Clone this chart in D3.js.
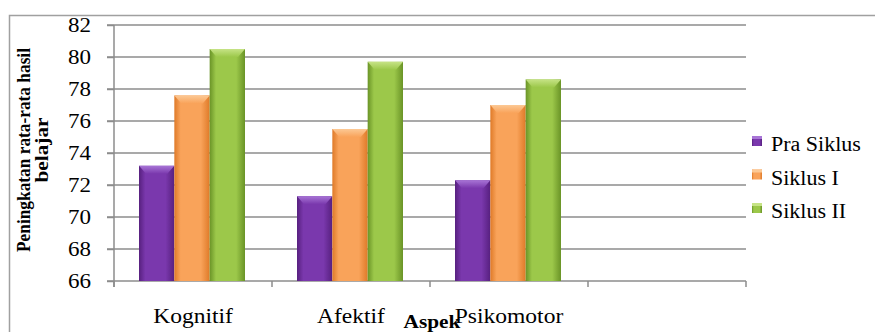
<!DOCTYPE html>
<html>
<head>
<meta charset="utf-8">
<script src="https://cdn.jsdelivr.net/npm/d3@7"></script>
<style>
  body { margin: 0; background: #fff; }
  svg { display: block; }
  svg text { font-family: 'Liberation Serif', 'Times New Roman', 'DejaVu Serif', serif; }
</style>
</head>
<body>
<div id="chart-area"></div>
<script>
const categories = ['Kognitif', 'Afektif', 'Psikomotor', ''];
const seriesNames = ['Pra Siklus', 'Siklus I', 'Siklus II'];
const praSiklus = [73.2, 71.3, 72.3];
const siklusI = [77.6, 75.5, 77.0];
const siklusII = [80.5, 79.7, 78.6];
const yTicks = [66, 68, 70, 72, 74, 76, 78, 80, 82];

const seriesValues = [praSiklus, siklusI, siklusII];
const colors = [
    { dark: '#57207f', mid: '#7a38ad', top: '#a875d6' },
    { dark: '#df7a28', mid: '#f9a35a', top: '#fcc995' },
    { dark: '#6a9427', mid: '#9cc84a', top: '#c6e386' }
];

const width = 875, height = 332;
const plot = { left: 114, right: 746, top: 25, bottom: 281 };
const serif = "'Liberation Serif', 'Times New Roman', 'DejaVu Serif', serif";

let svg = d3.select('#chart-area').append('svg')
    .attr('width', width)
    .attr('height', height);

// stretch text horizontally like the source picture
function stretch(sel, k) {
    sel.each(function () {
        this.setAttribute('textLength', this.getComputedTextLength() * k);
        this.setAttribute('lengthAdjust', 'spacingAndGlyphs');
    });
}
function fitTo(sel, len) {
    sel.attr('textLength', len).attr('lengthAdjust', 'spacingAndGlyphs');
}

let defs = svg.append('defs');
colors.forEach((c, i) => {
    let g = defs.append('linearGradient').attr('id', 'bar' + i)
        .attr('x1', 0).attr('x2', 1).attr('y1', 0).attr('y2', 0);
    g.append('stop').attr('offset', '0%').attr('stop-color', c.dark);
    g.append('stop').attr('offset', '18%').attr('stop-color', c.mid);
    g.append('stop').attr('offset', '75%').attr('stop-color', c.mid);
    g.append('stop').attr('offset', '100%').attr('stop-color', c.dark);
    let t = defs.append('linearGradient').attr('id', 'top' + i)
        .attr('x1', 0).attr('x2', 0).attr('y1', 0).attr('y2', 1);
    t.append('stop').attr('offset', '0%').attr('stop-color', c.top);
    t.append('stop').attr('offset', '100%').attr('stop-color', c.mid);
});

// outer frame
svg.append('rect')
    .attr('x', 9.5).attr('y', 15.5)
    .attr('width', 880).attr('height', 340)
    .attr('fill', 'none')
    .attr('stroke', '#a0a0a0')
    .attr('stroke-width', 1.5);

let y = d3.scaleLinear().domain([66, 82]).range([plot.bottom, plot.top]);
let x0 = d3.scaleBand().domain(categories).range([plot.left, plot.right]);
let x1 = d3.scaleBand().domain(seriesNames).range([25, 131]);

// gridlines
svg.append('g').selectAll('line').data(yTicks).enter().append('line')
    .attr('x1', plot.left - 7).attr('x2', plot.right)
    .attr('y1', (d) => y(d)).attr('y2', (d) => y(d))
    .attr('stroke', '#8c8c8c')
    .attr('stroke-width', 1.5);

// y axis
let leftAxis = d3.axisLeft(y).tickValues(yTicks).tickSize(7).tickPadding(16);
let yAxis = svg.append('g')
    .attr('transform', `translate(${plot.left}, 0)`)
    .call(leftAxis)
    .attr('font-family', null);
yAxis.select('.domain').remove();
yAxis.selectAll('line').attr('stroke', '#8c8c8c').attr('stroke-width', 1.5);
yAxis.selectAll('text')
    .style('font-family', serif)
    .attr('font-size', 20)
    .attr('fill', '#000')
    .attr('dy', '0.34em');
stretch(yAxis.selectAll('text'), 1.15);

svg.append('line')
    .attr('x1', plot.left).attr('x2', plot.left)
    .attr('y1', plot.top).attr('y2', plot.bottom + 6)
    .attr('stroke', '#8c8c8c').attr('stroke-width', 1.5);

// category ticks at band boundaries
let boundaries = categories.map((c) => x0(c)).concat([plot.right]);
svg.append('g').selectAll('line').data(boundaries).enter().append('line')
    .attr('x1', (d) => d).attr('x2', (d) => d)
    .attr('y1', plot.bottom).attr('y2', plot.bottom + 6)
    .attr('stroke', '#8c8c8c').attr('stroke-width', 1.5);

let catLabels = svg.append('g').selectAll('text').data(categories.filter((c) => c)).enter().append('text')
    .attr('x', (d) => x0(d) + x0.bandwidth() / 2)
    .attr('y', 323)
    .attr('text-anchor', 'middle')
    .style('font-family', serif)
    .attr('font-size', 21)
    .text((d) => d);
stretch(catLabels, 1.12);

// bars
seriesValues.forEach((vals, si) => {
    let g = svg.append('g');
    let data = vals.map((v, i) => ({ cat: categories[i], v: v }));
    g.selectAll('rect').data(data).enter().append('rect')
        .attr('x', (d) => x0(d.cat) + x1(seriesNames[si]))
        .attr('y', (d) => y(d.v))
        .attr('width', x1.bandwidth())
        .attr('height', (d) => plot.bottom - y(d.v))
        .attr('fill', `url(#bar${si})`);
    g.selectAll('polygon').data(data).enter().append('polygon')
        .attr('points', (d) => {
            let xa = x0(d.cat) + x1(seriesNames[si]);
            let xb = xa + x1.bandwidth();
            let yt = y(d.v);
            return `${xa},${yt} ${xb},${yt} ${xb - 7},${yt + 8} ${xa + 7},${yt + 8}`;
        })
        .attr('fill', `url(#top${si})`);
});

// legend
let legend = svg.append('g');
seriesNames.forEach((name, i) => {
    let ly = 146 + i * 33.5;
    legend.append('rect')
        .attr('x', 752).attr('y', ly - 10)
        .attr('width', 10).attr('height', 10)
        .attr('fill', `url(#bar${i})`);
    legend.append('rect')
        .attr('x', 752).attr('y', ly - 10)
        .attr('width', 10).attr('height', 3)
        .attr('fill', colors[i].top);
    let t = legend.append('text')
        .attr('x', 771).attr('y', ly + 5)
        .style('font-family', serif)
        .attr('font-size', 20)
        .text(name);
    stretch(t, 1.1);
});

// axis titles
let aspek = svg.append('text')
    .attr('x', 432).attr('y', 328)
    .attr('text-anchor', 'middle')
    .style('font-family', serif)
    .attr('font-weight', 'bold')
    .attr('font-size', 19)
    .text('Aspek');
stretch(aspek, 1.12);

let yTitle1 = svg.append('text')
    .attr('transform', 'translate(30, 150) rotate(-90)')
    .attr('text-anchor', 'middle')
    .style('font-family', serif)
    .attr('font-weight', 'bold')
    .attr('font-size', 19)
    .text('Peningkatan rata-rata hasil');
fitTo(yTitle1, 204);

let yTitle2 = svg.append('text')
    .attr('transform', 'translate(48, 150) rotate(-90)')
    .attr('text-anchor', 'middle')
    .style('font-family', serif)
    .attr('font-weight', 'bold')
    .attr('font-size', 19)
    .text('belajar');
fitTo(yTitle2, 65);
</script>
</body>
</html>
